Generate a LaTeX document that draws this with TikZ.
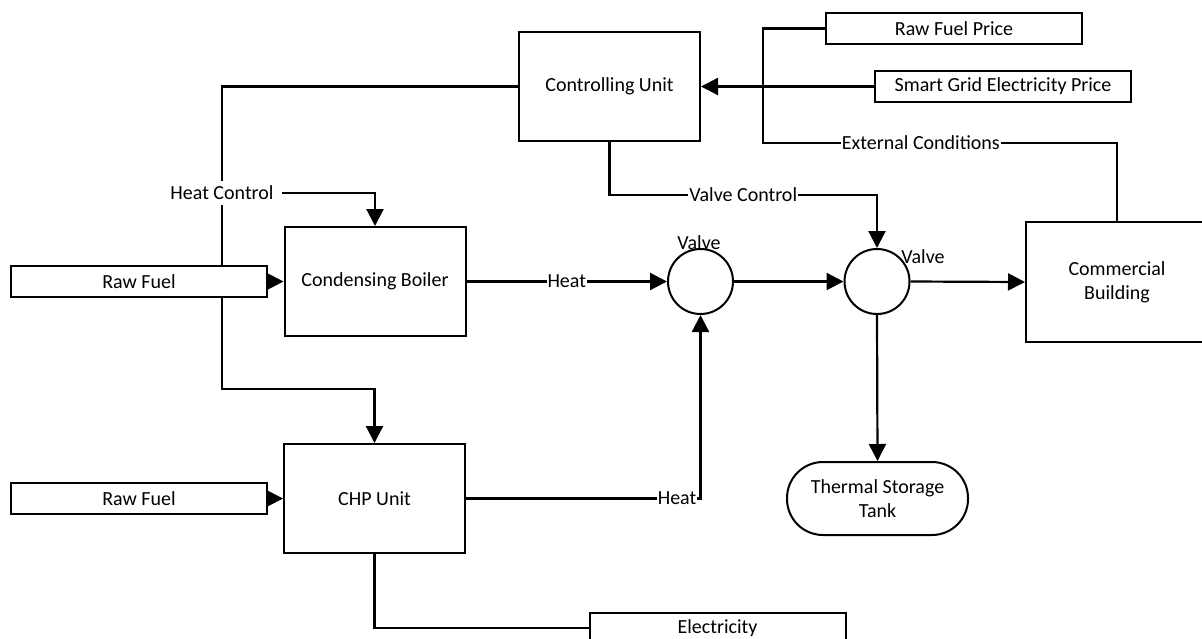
\documentclass[tikz,border=0pt]{standalone}
\usepackage{fontspec}
\setmainfont{Carlito}
\usetikzlibrary{arrows.meta, positioning, backgrounds}

\begin{document}
\begin{tikzpicture}[x=1pt, y=-1pt,
  every node/.style={font=\fontsize{20}{24}\selectfont},
  box/.style={draw, rectangle, line width=2pt, fill=white, inner sep=0pt, align=center},
  wide/.style={box, minimum width=256pt, minimum height=31pt},
  unit/.style={box, minimum width=181pt, minimum height=109pt},
  valve/.style={draw, circle, line width=2pt, fill=white, minimum size=65pt, inner sep=0pt},
  tag/.style={fill=white, inner sep=1pt},
  arr/.style={-{Triangle[length=17pt, width=17pt]}, line width=2.2pt},
  wire/.style={line width=2.2pt}]
  \useasboundingbox (0,0) rectangle (1202,638);

  % Units
  \node[unit] (ctrl) at (609.5,86.5) {Controlling Unit};
  \node[unit] (boiler) at (375,281.5) {Condensing Boiler};
  \node[unit] (chp) at (374.5,498.5) {CHP Unit};
  \node[box, minimum width=182pt, minimum height=120pt] (bldg) at (1117,282) {Commercial\\Building};
  \node[box, rounded corners=36pt, minimum width=181pt, minimum height=73pt] (tank) at (877.5,498.5) {Thermal Storage\\Tank};

  % Inputs and outputs
  \node[wide] (rfp) at (954,28.5) {Raw Fuel Price};
  \node[wide] (sgp) at (1003,86.5) {Smart Grid Electricity Price};
  \node[wide] (fuel1) at (139,281.5) {Raw Fuel};
  \node[wide] (fuel2) at (139,498.5) {Raw Fuel};
  \node[wide] (elec) at (717.5,628) {Electricity};

  % Valves
  \node[valve] (valve1) at (700.5,281.5) {};
  \node[valve] (valve2) at (877,281.5) {};
  \node (vlab1) at (699,243) {Valve};
  \node (vlab2) at (923,257) {Valve};

  \node[tag, inner xsep=8pt, inner ysep=5pt] (hcl) at (222,193) {Heat Control};
  \coordinate (split) at (222,389);
  \coordinate (vc) at (609.5,195);
  \coordinate (bus) at (763,143);

  % Connectors
  \begin{pgfonlayer}{background}
    \draw[arr] (ctrl.west) -| (split) -| (chp.north);
    \draw[arr] (hcl.east) -| (boiler.north);
    \draw[arr] (fuel1.east) -- (boiler.west);
    \draw[arr] (fuel2.east) -- (chp.west);
    \draw[arr] (boiler.east) -- node[tag] {Heat} (valve1.west);
    \draw[arr] (chp.east) -| node[tag, pos=0.45] {Heat} (valve1.south);
    \draw[arr] (valve1.east) -- (valve2.west);
    \draw[arr] (valve2.east) -- (bldg.west);
    \draw[arr] (valve2.south) -- (tank.north);
    \draw[arr] (ctrl.south) -- (vc) -| node[tag, pos=0.25] {Valve Control} (valve2.north);
    \draw[arr] (sgp.west) -- (ctrl.east);
    \draw[wire] (rfp.west) -| (bus) -| node[tag, pos=0.223] {External Conditions} (bldg.north);
    \draw[wire] (chp.south) |- (elec.west);
  \end{pgfonlayer}
\end{tikzpicture}
\end{document}
